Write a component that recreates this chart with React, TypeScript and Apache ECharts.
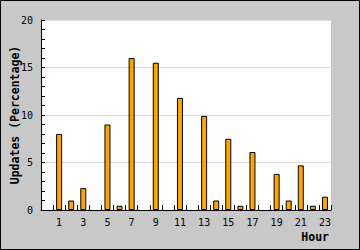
import React, { useEffect, useRef } from "react";
import * as echarts from "echarts";

const hours: string[] = Array.from({ length: 24 }, (_, i) => String(i));
const updates: number[] = [
  0, 8, 1, 2.3, 0, 9, 0.45, 16, 0, 15.5, 0, 11.8,
  0, 9.9, 1, 7.5, 0.45, 6.1, 0, 3.8, 1, 4.7, 0.45, 1.4,
];
const yTicks = { min: 0, max: 20, interval: 5 };
const yName = "Updates (Percentage)";
const xName = "Hour";

const MONO = "'DejaVu Sans Mono', monospace";

export default function App() {
  const ref = useRef<HTMLDivElement>(null);
  useEffect(() => {
    document.body.style.margin = "0";
    const chart = echarts.init(ref.current!, undefined, { renderer: "svg" });
    chart.setOption({
      animation: false,
      backgroundColor: "#c8c8c8",
      grid: {
        left: 41,
        top: 20,
        right: 29,
        bottom: 40,
        show: true,
        backgroundColor: "#ffffff",
        borderWidth: 0,
        containLabel: false,
        outerBoundsMode: "none",
      },
      graphic: [
        {
          type: "rect",
          shape: { x: 0.5, y: 0.5, width: 359, height: 249 },
          style: { fill: "none", stroke: "#000", lineWidth: 1 },
          z: 100,
        },
      ],
      xAxis: {
        type: "category",
        data: hours,
        name: xName,
        nameLocation: "end",
        nameGap: -2,
        nameTextStyle: {
          fontFamily: MONO,
          fontSize: 11.5,
          fontWeight: "bold",
          color: "#000",
          align: "right",
          verticalAlign: "top",
          padding: [21, 0, 0, 0],
        },
        axisLine: { lineStyle: { color: "#000", width: 1 } },
        axisTick: {
          show: true,
          inside: true,
          length: 5,
          interval: 0,
          alignWithLabel: false,
          lineStyle: { color: "#000" },
        },
        axisLabel: {
          interval: (idx: number) => idx % 2 === 1,
          fontFamily: MONO,
          fontSize: 10,
          color: "#000",
          margin: 7,
        },
        splitLine: { show: false },
      },
      yAxis: {
        type: "value",
        min: yTicks.min,
        max: yTicks.max,
        interval: yTicks.interval,
        name: yName,
        nameLocation: "middle",
        nameGap: 20,
        nameMoveOverlap: false,
        nameTextStyle: {
          fontFamily: MONO,
          fontSize: 11.5,
          fontWeight: "bold",
          color: "#000",
        },
        axisLine: { show: true, lineStyle: { color: "#000", width: 1 } },
        axisTick: {
          show: true,
          inside: true,
          length: 4,
          lineStyle: { color: "#000" },
        },
        minorTick: {
          show: true,
          splitNumber: 5,
          length: 4,
          lineStyle: { color: "#000" },
        },
        axisLabel: {
          fontFamily: MONO,
          fontSize: 10,
          color: "#000",
          margin: 8,
        },
        splitLine: { show: true, lineStyle: { color: "#dcdcdc", width: 1 } },
      },
      series: [
        {
          type: "bar",
          data: updates.map((v) => (v === 0 ? "-" : v)),
          barWidth: 6,
          itemStyle: { color: "#ffa500", borderColor: "#000", borderWidth: 1 },
        },
      ],
    });
    return () => chart.dispose();
  }, []);
  return <div ref={ref} style={{ width: 360, height: 250 }} />;
}
